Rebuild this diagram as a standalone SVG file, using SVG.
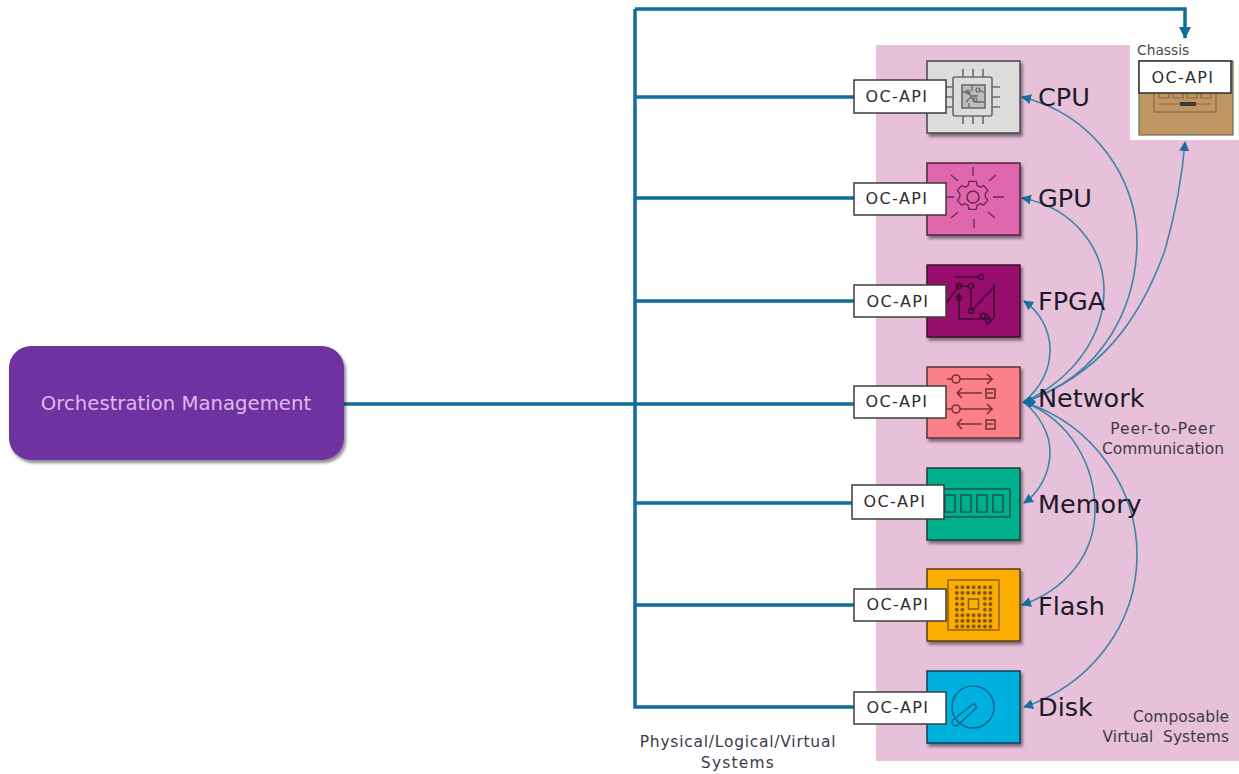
<svg xmlns="http://www.w3.org/2000/svg" width="1239" height="774" viewBox="0 0 1239 774">
<style>
text{font-family:"DejaVu Sans","Liberation Sans",sans-serif}
.wire{fill:none;stroke:#0f6e9b;stroke-width:3.5}
.peer{fill:none;stroke:#3f84a8;stroke-width:1.6}
.api{fill:#fff;stroke:#3c3c3c;stroke-width:1.5}
.apit{font-size:16px;letter-spacing:1.4px;fill:#2e2e2e;text-anchor:middle}
.lab{font-size:25.500px;fill:#1d1a2b}
.cap{font-size:15.500px;fill:#3e3a48}
.ic{fill:none;stroke-width:1.6}
</style>
<defs>
<filter id="sh" x="-10%" y="-10%" width="125%" height="125%"><feDropShadow dx="2" dy="3" stdDeviation="1.6" flood-color="#000" flood-opacity=".45"/></filter>
<marker id="big" markerUnits="userSpaceOnUse" markerWidth="14" markerHeight="14" refX="11" refY="6" orient="auto"><path d="M0 0L12 6L0 12z" fill="#0f6e9b"/></marker>
<marker id="sm" markerUnits="userSpaceOnUse" markerWidth="12" markerHeight="12" refX="9" refY="5" orient="auto"><path d="M0 0L10 5L0 10z" fill="#166f9e"/></marker>
<pattern id="dots" x="954" y="584.500" width="5.600" height="5.600" patternUnits="userSpaceOnUse"><circle cx="2.800" cy="2.800" r="1.900" fill="#7a4d08"/></pattern>
</defs>
<rect width="1239" height="774" fill="#fff"/>
<rect x="876" y="45" width="363" height="716" fill="#e7c1da"/>
<rect x="1130" y="45" width="109" height="95" fill="#fff"/>

<g id="connectors">
<path class="wire" d="M344 404H854M635 9V707H854M635 97H854M635 198H854M635 301H854M635 503H852M635 605H854"/>
<path class="wire" d="M635 9H1185V38" marker-end="url(#big)"/>
<path class="peer" marker-end="url(#sm)" d="M1024 402C1105 375 1137 305 1137 240C1137 180 1095 115 1022 97"/>
<path class="peer" marker-end="url(#sm)" d="M1024 402C1075 378 1104 335 1104 290C1104 250 1075 208 1022 198"/>
<path class="peer" marker-end="url(#sm)" d="M1024 402C1040 388 1050 370 1050 350C1050 330 1040 312 1024 301"/>
<path class="peer" marker-end="url(#sm)" d="M1024 402C1100 375 1140 320 1165 250C1175 215 1182 180 1185 142"/>
<path class="peer" marker-end="url(#sm)" d="M1024 402C1040 416 1050 434 1050 452C1050 472 1040 492 1024 503"/>
<path class="peer" marker-end="url(#sm)" d="M1024 402C1070 420 1095 465 1095 510C1095 555 1065 590 1022 605"/>
<path class="peer" marker-end="url(#sm)" d="M1024 402C1095 425 1137 490 1137 555C1137 625 1090 685 1024 707"/>
<path d="M1022 402L1030 396L1036 402L1030 408z" fill="#166f9e"/>
</g>

<g id="orchestration">
<rect x="9" y="346" width="335" height="114" rx="22" fill="#7030a0" filter="url(#sh)"/>
<text x="176" y="410" font-size="19.700" fill="#dfb9ee" text-anchor="middle">Orchestration Management</text>
</g>

<g id="cpu">
<rect x="927" y="61" width="93" height="72" fill="#dcdcdc" stroke="#4a444c" stroke-width="1.5" filter="url(#sh)"/>
<g class="ic" stroke="#6a6a6a">
<rect x="953" y="77" width="39" height="39" rx="2"/>
<rect x="962" y="85" width="23" height="23" fill="#bdbdbd"/>
<path d="M962 92h6l3 4h7M966 102l5-5 5 5h9M972 85v6M979 90l6 3M969 108v-5" stroke-width="1.300"/>
<circle cx="968" cy="92" r="2" stroke-width="1.200"/><circle cx="975" cy="100" r="2" stroke-width="1.200"/><circle cx="978" cy="90" r="2" stroke-width="1.200"/>
<path d="M945 87h8M945 97h8M945 107h8M992 87h8M992 97h8M992 107h8M963 69v8M973 69v8M983 69v8M963 116v8M973 116v8M983 116v8"/>
</g>
<text class="lab" x="1038" y="106">CPU</text>
<rect class="api" x="854" y="80" width="92" height="33"/>
<text class="apit" x="897" y="102">OC-API</text>
</g>

<g id="gpu">
<rect x="927" y="163" width="93" height="72" fill="#e066ad" stroke="#4f2340" stroke-width="1.5" filter="url(#sh)"/>
<g class="ic" stroke="#6a2a55">
<path transform="translate(973 197) scale(.82) translate(-973 -197)" d="M968 178h9l1 5 4 2 4-2 5 6-3 4v4l3 4-5 6-4-2-4 2-1 5h-9l-1-5-4-2-4 2-5-6 3-4v-4l-3-4 5-6 4 2 4-2z"/>
<circle cx="973" cy="197" r="6"/>
<path d="M973 167v9M974 219v9M945 197h9M993 197h11M951 175l7 6M996 175l-7 6M951 218l7-6M995 218l-7-6" stroke-width="1.300"/>
</g>
<text class="lab" x="1038" y="207">GPU</text>
<rect class="api" x="854" y="183" width="92" height="32"/>
<text class="apit" x="897" y="204">OC-API</text>
</g>

<g id="fpga">
<rect x="927" y="265" width="93" height="72" fill="#970f6c" stroke="#3c1030" stroke-width="1.5" filter="url(#sh)"/>
<g class="ic" stroke="#3f0d34">
<path d="M955 277h24M945 305l14-19h10M959 293v26h32M971 289v22M973 309l21-22M994 284v34l-8 7M985 313l5 4"/>
<circle cx="981" cy="277" r="2.500"/><circle cx="959" cy="286" r="2.500"/><circle cx="971" cy="286" r="2.500"/><circle cx="959" cy="298" r="2.500"/><circle cx="971" cy="311" r="2.500"/><circle cx="983" cy="316" r="2.500"/><circle cx="988" cy="320" r="2.500"/>
</g>
<text class="lab" x="1038" y="310">FPGA</text>
<rect class="api" x="854" y="285" width="92" height="32"/>
<text class="apit" x="898" y="307">OC-API</text>
</g>

<g id="network">
<rect x="927" y="367" width="93" height="71" fill="#fb8087" stroke="#5a3236" stroke-width="1.5" filter="url(#sh)"/>
<g class="ic" stroke="#7a3238">
<path d="M947 379h5M960 379h32l-5-5M992 379l-5 5M957 393h25M987 393h6M957 393l5-5M957 393l5 5M947 409h5M960 409h32l-5-5M992 409l-5 5M957 424h25M987 424h6M957 424l5-5M957 424l5 5"/>
<circle cx="956" cy="379" r="4"/><circle cx="956" cy="409" r="4"/>
<rect x="986" y="389" width="9" height="9"/><rect x="986" y="420" width="9" height="9"/>
</g>
<text class="lab" x="1038" y="407">Network</text>
<rect class="api" x="854" y="386" width="92" height="32"/>
<text class="apit" x="897" y="407">OC-API</text>
<text class="cap" x="1163" y="434" text-anchor="middle" letter-spacing="0.900">Peer-to-Peer</text>
<text class="cap" x="1163" y="454" text-anchor="middle">Communication</text>
</g>

<g id="memory">
<rect x="927" y="468" width="93" height="72" fill="#00b08d" stroke="#17423b" stroke-width="1.5" filter="url(#sh)"/>
<g class="ic" stroke="#125f52" stroke-width="1.800">
<rect x="935" y="489" width="75" height="28"/>
<rect x="945" y="495" width="10" height="17"/><rect x="961" y="495" width="10" height="17"/><rect x="977" y="495" width="10" height="17"/><rect x="993" y="495" width="10" height="17"/>
</g>
<text class="lab" x="1038" y="513">Memory</text>
<rect class="api" x="852" y="485" width="92" height="34"/>
<text class="apit" x="895" y="507">OC-API</text>
</g>

<g id="flash">
<rect x="927" y="569" width="93" height="72" fill="#fbae03" stroke="#5a3d0c" stroke-width="1.5" filter="url(#sh)"/>
<rect x="948" y="580" width="51" height="50" fill="none" stroke="#8a5a0c" stroke-width="1.400"/>
<rect x="954" y="584.500" width="39.200" height="44.800" fill="url(#dots)"/>
<rect x="965.200" y="595.700" width="16.800" height="16.800" fill="#fbae03"/>
<rect x="968.500" y="599" width="10" height="10" fill="none" stroke="#8a5a0c" stroke-width="1.500"/>
<text class="lab" x="1038" y="615">Flash</text>
<rect class="api" x="854" y="589" width="92" height="32"/>
<text class="apit" x="898" y="610">OC-API</text>
</g>

<g id="disk">
<rect x="927" y="671" width="93" height="72" fill="#00b0df" stroke="#10405a" stroke-width="1.5" filter="url(#sh)"/>
<g class="ic" stroke="#0f6c8f">
<circle cx="973" cy="707" r="21"/>
<path d="M973 704L953 720a3.500 3.500 0 0 0 5 5L976 708a3 3 0 0 0-3-4z"/>
</g>
<text class="lab" x="1038" y="716">Disk</text>
<rect class="api" x="854" y="692" width="92" height="32"/>
<text class="apit" x="898" y="713">OC-API</text>
<text class="cap" x="1229" y="722" text-anchor="end">Composable</text>
<text class="cap" x="1229" y="742" text-anchor="end" xml:space="preserve">Virtual  Systems</text>
</g>

<g id="chassis">
<text x="1137" y="55" font-size="13.800" fill="#4a4a4a">Chassis</text>
<rect x="1139" y="61" width="94" height="74" fill="#bf9561" stroke="#6e6a5e" stroke-width="1.200"/>
<g fill="none" stroke="#8b6a43" stroke-width="1.200">
<rect x="1154" y="85" width="62" height="27"/>
<path d="M1159 93v5h10v-5M1173 93v5h10v-5M1187 93v5h10v-5M1201 93v5h10v-5M1159 104h52"/>
</g>
<rect x="1180" y="102" width="16" height="4" fill="#423a30"/>
<rect x="1139" y="61" width="92" height="32" fill="#fff" stroke="#2e2e2e" stroke-width="1.5"/>
<text class="apit" x="1183" y="83">OC-API</text>
</g>

<g id="systems-caption">
<text class="cap" x="738" y="747" text-anchor="middle" letter-spacing="0.750">Physical/Logical/Virtual</text>
<text class="cap" x="738" y="768" text-anchor="middle" letter-spacing="1.200">Systems</text>
</g>
</svg>
